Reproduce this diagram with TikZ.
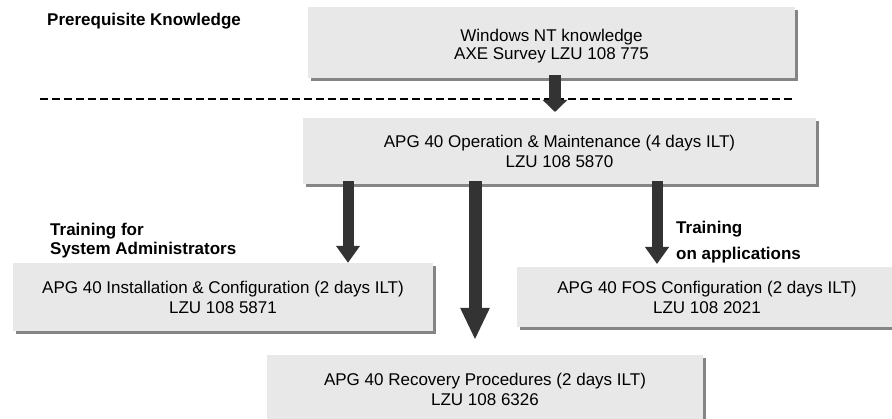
\documentclass[tikz,border=0pt]{standalone}
\usepackage{fontspec}
\setmainfont{Liberation Sans}
\usetikzlibrary{arrows.meta,shadows}
\definecolor{boxfill}{HTML}{E8E8E8}
\definecolor{shadowgray}{HTML}{858585}
\definecolor{arrowgray}{HTML}{333333}
\tikzset{
  box/.style={rectangle, fill=boxfill, inner sep=0pt, align=center,
    font=\fontsize{17}{20}\selectfont,
    general shadow={shadow xshift=3pt, shadow yshift=-3pt, fill=shadowgray}},
  boxtext/.style={align=center, inner sep=0pt, font=\fontsize{17}{18}\selectfont},
  lbl/.style={align=left, anchor=west, inner sep=0pt, font=\fontsize{17}{19}\selectfont\bfseries},
  blockarrow/.style={draw=arrowgray, line width=11pt,
    -{Triangle[width=23pt,length=17pt]}},
  toparrow/.style={draw=arrowgray, line width=12pt,
    -{Triangle[width=24pt,length=12pt]}},
  bigarrow/.style={draw=arrowgray, line width=13pt,
    -{Triangle[width=27pt,length=32pt]}},
  sep/.style={draw=black, line width=1.4pt, dash pattern=on 8pt off 4pt}
}
\begin{document}
\begin{tikzpicture}[x=1pt,y=-1pt]
\useasboundingbox (0,0) rectangle (892,419);
% boxes
\node[box, minimum width=487pt, minimum height=71pt] (b1) at (551.5,42.5) {};
\node[boxtext] (b1t) at (551.5,46.5) {Windows NT knowledge\\AXE Survey LZU 108 775};
\node[box, minimum width=513pt, minimum height=66pt] (b2) at (559.5,151)
  {APG 40 Operation \& Maintenance (4 days ILT)\\LZU 108 5870};
\node[box, minimum width=420pt, minimum height=68pt] (b3) at (223,297)
  {APG 40 Installation \& Configuration (2 days ILT)\\LZU 108 5871};
\node[box, minimum width=380pt, minimum height=60pt] (b4) at (707,297)
  {APG 40 FOS Configuration (2 days ILT)\\LZU 108 2021};
\node[box, minimum width=436pt, minimum height=68pt] (b5) at (485,389)
  {APG 40 Recovery Procedures (2 days ILT)\\LZU 108 6326};
% labels
\node[lbl] (l1) at (47,21) {Prerequisite Knowledge};
\node[lbl] (l2) at (50,241) {Training for\\System Administrators};
\node[lbl] (l3) at (676,242.5) {Training\\[7pt]on applications};
% dashed separator
\coordinate (dL) at (40,99);
\coordinate (dR) at (795,99);
\draw[sep] (dL) -- (dR);
% arrow positions
\coordinate (x1) at (555,0);
\coordinate (x2) at (348,0);
\coordinate (x3) at (475,0);
\coordinate (x4) at (657,0);
\coordinate (t1) at (555,112);
\coordinate (t3) at (475,340);
\coordinate (t4) at (657,264);
\draw[toparrow] ([yshift=3pt]b1.south -| x1) -- (t1);
\draw[blockarrow] ([yshift=3pt]b2.south -| x2) -- (b3.north -| x2);
\draw[bigarrow] ([yshift=3pt]b2.south -| x3) -- (t3);
\draw[blockarrow] ([yshift=3pt]b2.south -| x4) -- (t4);
\end{tikzpicture}
\end{document}
